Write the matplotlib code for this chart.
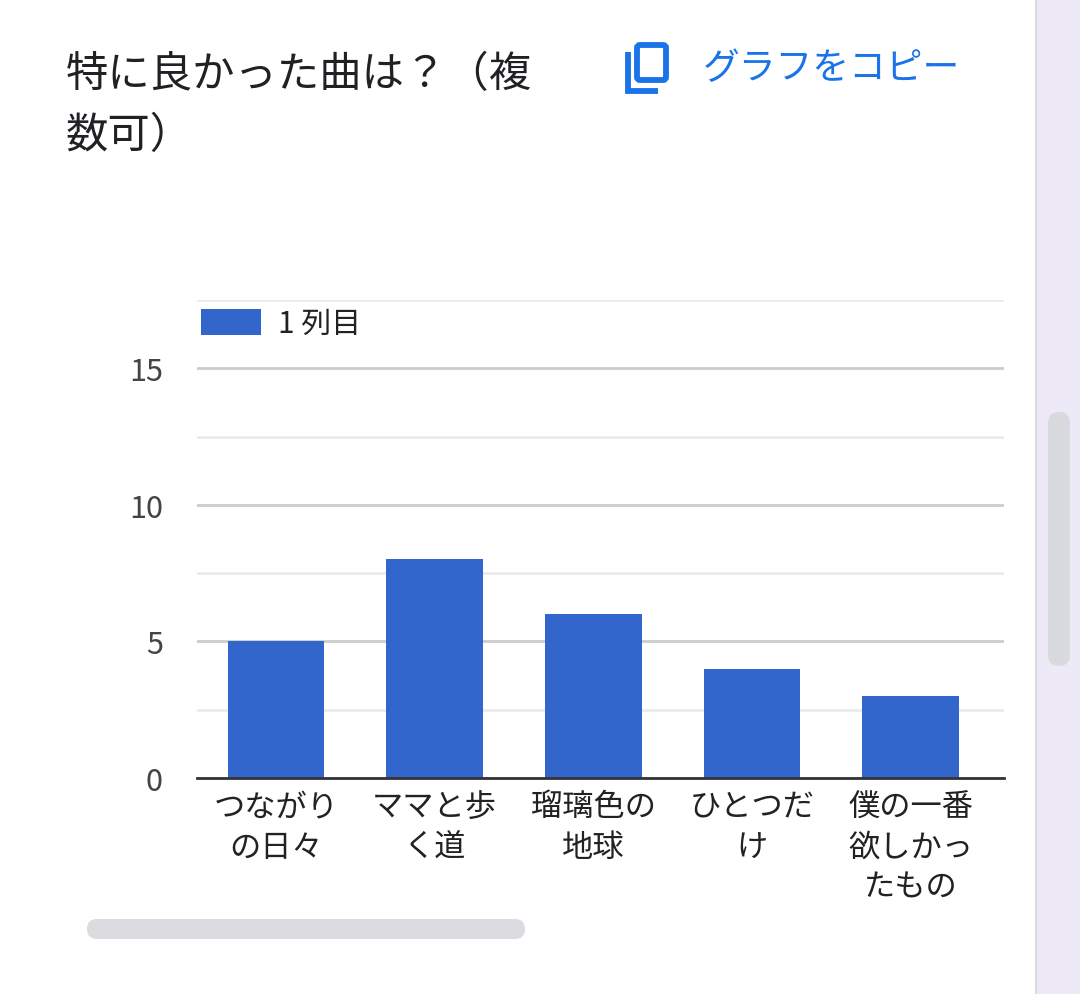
import matplotlib
matplotlib.use("Agg")
import matplotlib.pyplot as plt
from matplotlib.patches import Rectangle, FancyBboxPatch

plt.rcParams['font.family'] = ['Noto Sans CJK JP', 'DejaVu Sans']

title = "特に良かった曲は？（複\n数可）"
copy_label = "グラフをコピー"
series_name = "1 列目"
categories = ["つながり\nの日々", "ママと歩\nく道", "瑠璃色の\n地球", "ひとつだ\nけ", "僕の一番\n欲しかっ\nたもの"]
values = [5, 8, 6, 4, 3]
yticks = [0, 5, 10, 15]

W, H = 1080, 995
fig = plt.figure(figsize=(W / 100, H / 100), dpi=100)
fig.patch.set_facecolor("white")

# background overlay in pixel coords
bg = fig.add_axes([0, 0, 1, 1], zorder=-1)
bg.set_xlim(0, W)
bg.set_ylim(H, 0)
bg.axis("off")
bg.add_patch(Rectangle((1037, 0), W - 1037, H, facecolor="#ede9f7", edgecolor="none"))
bg.plot([1036, 1036], [0, H], color="#dcd9e3", lw=1.5)
bg.add_patch(FancyBboxPatch((1048, 413), 22, 254, boxstyle="round,pad=0,rounding_size=11",
                            facecolor="#d9dade", edgecolor="none"))
bg.add_patch(FancyBboxPatch((87, 920), 438, 20, boxstyle="round,pad=0,rounding_size=10",
                            facecolor="#dadce0", edgecolor="none"))
# copy icon
blue = "#1a73e8"
bg.plot([628, 628, 658], [53, 92, 92], color=blue, lw=4.2, solid_capstyle="butt", solid_joinstyle="miter")
bg.add_patch(FancyBboxPatch((637, 46), 29, 35, boxstyle="round,pad=0,rounding_size=3",
                            facecolor="none", edgecolor=blue, lw=4.2))
bg.text(703, 68, copy_label, fontsize=26.5, color=blue, ha="left", va="center")
bg.text(66, 105, title, fontsize=30.5, color="#202124", ha="left", va="center", linespacing=1.5)

# chart
ax = fig.add_axes([197 / W, 1 - 779 / H, (1004 - 197) / W, (779 - 301) / H])
x = list(range(len(categories)))
ax.bar(x, values, width=0.61, color="#3366cc", zorder=3, label=series_name)
ax.set_xlim(-0.498, len(categories) - 0.411)
ax.set_ylim(0, 17.5)
ax.set_yticks(yticks)
ax.set_yticks([2.5, 7.5, 12.5, 17.5], minor=True)
ax.grid(axis="y", which="major", color="#cccccc", lw=2, zorder=0)
ax.grid(axis="y", which="minor", color="#ebebeb", lw=2, zorder=0)
ax.set_xticks(x)
ax.set_xticklabels(categories, fontsize=22.5, color="#222222", linespacing=1.33, va="top")
ax.tick_params(axis="x", length=0, pad=9)
ax.tick_params(axis="y", which="both", length=0, pad=24.5, labelsize=22, labelcolor="#444444")
for s in ["top", "right", "left"]:
    ax.spines[s].set_visible(False)
ax.spines["bottom"].set_color("#333333")
ax.spines["bottom"].set_linewidth(2)
ax.spines["bottom"].set_zorder(4)

leg = ax.legend(loc="upper left", bbox_to_anchor=(0.0, 1.0), frameon=False, fontsize=21.5,
                handlelength=2.0, handleheight=0.94, handletextpad=0.57, borderaxespad=0.1,
                borderpad=0.05, labelcolor="#222222")
leg.set_bbox_to_anchor((0.0, 0.992))

fig.savefig("out.png", dpi=100, facecolor="white")
